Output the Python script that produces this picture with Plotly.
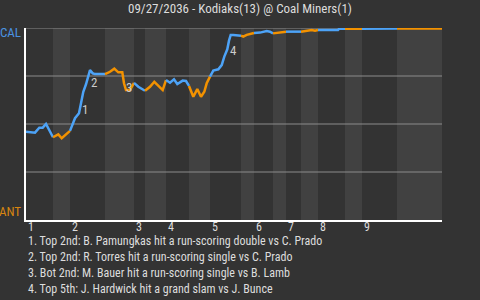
import plotly.graph_objects as go

# ---- data ----
title_text = "09/27/2036 - Kodiaks(13) @ Coal Miners(1)"
away_abbr = "CAL"
home_abbr = "ANT"

# game progress units and half-inning boundaries
half_bounds = [0, 27, 44, 79, 108, 119, 140, 163, 184, 215, 228, 247, 260, 275, 292, 319, 336, 371, 416]
inning_labels = ["1", "2", "3", "4", "5", "6", "7", "8", "9"]

progress = [0, 4, 9, 13.3, 16.7, 20, 24, 27,
            32.3, 35.7, 40, 44,
            46.7, 49, 53, 54, 55.7, 57.3, 60, 61.7, 64, 66.7, 69, 79,
            84, 88.3, 92.3, 96.3, 98, 100, 104, 108,
            112.3, 119,
            124, 128.3, 133.3, 136.7, 140,
            144, 148, 151.3, 156.7, 160, 163,
            167.3, 171.3, 175, 178.3, 180.7, 184,
            187.3, 192.3, 195.7, 198.3, 201.3, 203, 204.7, 207.3, 215,
            217.3, 220.7, 224, 228,
            234, 240.7, 244, 247,
            252.3, 256.7, 260,
            267.3, 275,
            280.7, 285.7, 289, 292,
            312, 313, 319,
            336,
            356, 357, 371,
            416]
win_prob = [0.460, 0.457, 0.455, 0.481, 0.481, 0.500, 0.464, 0.431,
            0.446, 0.426, 0.446, 0.464,
            0.504, 0.530, 0.556, 0.582, 0.625, 0.668, 0.707, 0.738, 0.781, 0.764, 0.760, 0.760,
            0.772, 0.788, 0.769, 0.769, 0.712, 0.677, 0.677, 0.714,
            0.694, 0.673,
            0.694, 0.720, 0.694, 0.677, 0.729,
            0.715, 0.733, 0.708, 0.726, 0.724, 0.698,
            0.642, 0.682, 0.642, 0.668, 0.712, 0.747,
            0.778, 0.785, 0.807, 0.851, 0.889, 0.934, 0.964, 0.964, 0.960,
            0.955, 0.964, 0.969, 0.974,
            0.976, 0.984, 0.981, 0.972,
            0.976, 0.979, 0.981,
            0.981, 0.981,
            0.984, 0.990, 0.986, 0.990,
            0.989, 0.996, 0.996,
            0.996,
            0.996, 0.998, 0.998,
            0.998]

event_ids = ["1", "2", "3", "4"]
event_x = [59, 67.5, 103, 207]
event_y = [0.573, 0.714, 0.688, 0.885]
event_notes = [
    "1. Top 2nd: B. Pamungkas hit a run-scoring double vs C. Prado",
    "2. Top 2nd: R. Torres hit a run-scoring single vs C. Prado",
    "3. Bot 2nd: M. Bauer hit a run-scoring single vs B. Lamb",
    "4. Top 5th: J. Hardwick hit a grand slam vs J. Bunce",
]

# ---- style ----
BG = "#333333"
BAND = "#414141"
GRID = "#8c8c8c"
BLUE = "#4da3f7"
ORANGE = "#f39200"
TXT = "#dddddd"
FONT = "Roboto Condensed"

fig = go.Figure()

# line segments coloured per half inning
for h in range(len(half_bounds) - 1):
    lo, hi = half_bounds[h], half_bounds[h + 1]
    xs = [x for x in progress if lo <= x <= hi]
    ys = [y for x, y in zip(progress, win_prob) if lo <= x <= hi]
    fig.add_trace(go.Scatter(
        x=xs, y=ys, mode="lines",
        line=dict(color=BLUE if h % 2 == 0 else ORANGE, width=2.5),
        hoverinfo="skip", showlegend=False))

shapes = []
# alternating half-inning bands
for h in range(len(half_bounds) - 1):
    if h % 2 == 1:
        shapes.append(dict(type="rect", xref="x", yref="paper",
                           x0=half_bounds[h], x1=half_bounds[h + 1], y0=0, y1=1,
                           fillcolor=BAND, line=dict(width=0), layer="below"))
# gridlines
for g in [0.25, 0.5, 0.75, 1.0]:
    shapes.append(dict(type="line", xref="paper", yref="y", x0=0, x1=1, y0=g, y1=g,
                       line=dict(color=GRID, width=1.2), layer="below"))

annotations = []
# inning labels
tops = half_bounds[0:-1:2]
for lab, x in zip(inning_labels, tops):
    annotations.append(dict(x=x, y=0, xref="x", yref="paper", text=lab, showarrow=False,
                            xanchor="left", yanchor="top", yshift=2,
                            font=dict(family=FONT, size=12, color=TXT)))
# event markers
for lab, x, y in zip(event_ids, event_x, event_y):
    annotations.append(dict(x=x, y=y, xref="x", yref="y", text=lab, showarrow=False,
                            font=dict(family=FONT, size=13, color="#cccccc")))
# notes
for i, note in enumerate(event_notes):
    annotations.append(dict(x=0, y=-0.109 - i * 16 / 192, xref="paper", yref="paper",
                            text=note, showarrow=False, xanchor="left", yanchor="middle",
                            font=dict(family=FONT, size=12, color=TXT)))
# team labels
annotations.append(dict(x=0, y=(220 - 33) / 192, xref="paper", yref="paper", text=away_abbr,
                        showarrow=False, xanchor="right", yanchor="middle", xshift=-3,
                        font=dict(family=FONT, size=13, color="#4a92e0")))
annotations.append(dict(x=0, y=(220 - 211) / 192, xref="paper", yref="paper", text=home_abbr,
                        showarrow=False, xanchor="right", yanchor="middle", xshift=-3,
                        font=dict(family=FONT, size=13, color="#d88510")))

fig.update_layout(
    width=480, height=300,
    margin=dict(l=26, r=38, t=28, b=80, pad=0),
    paper_bgcolor=BG, plot_bgcolor=BG,
    title=dict(text=title_text, x=0.5, xref="container", xanchor="center",
               y=1 - 8 / 300, yref="container", yanchor="middle",
               font=dict(family=FONT, size=13, color=TXT)),
    xaxis=dict(range=[half_bounds[0], half_bounds[-1]], showgrid=False, zeroline=False,
               showticklabels=False, ticks="", showline=True, linecolor="#ffffff", linewidth=1.5),
    yaxis=dict(range=[0, 1], showgrid=False, zeroline=False, showticklabels=False, ticks="",
               showline=True, linecolor="#ffffff", linewidth=1.5),
    shapes=shapes, annotations=annotations, showlegend=False,
)

fig.write_html("out.html")
